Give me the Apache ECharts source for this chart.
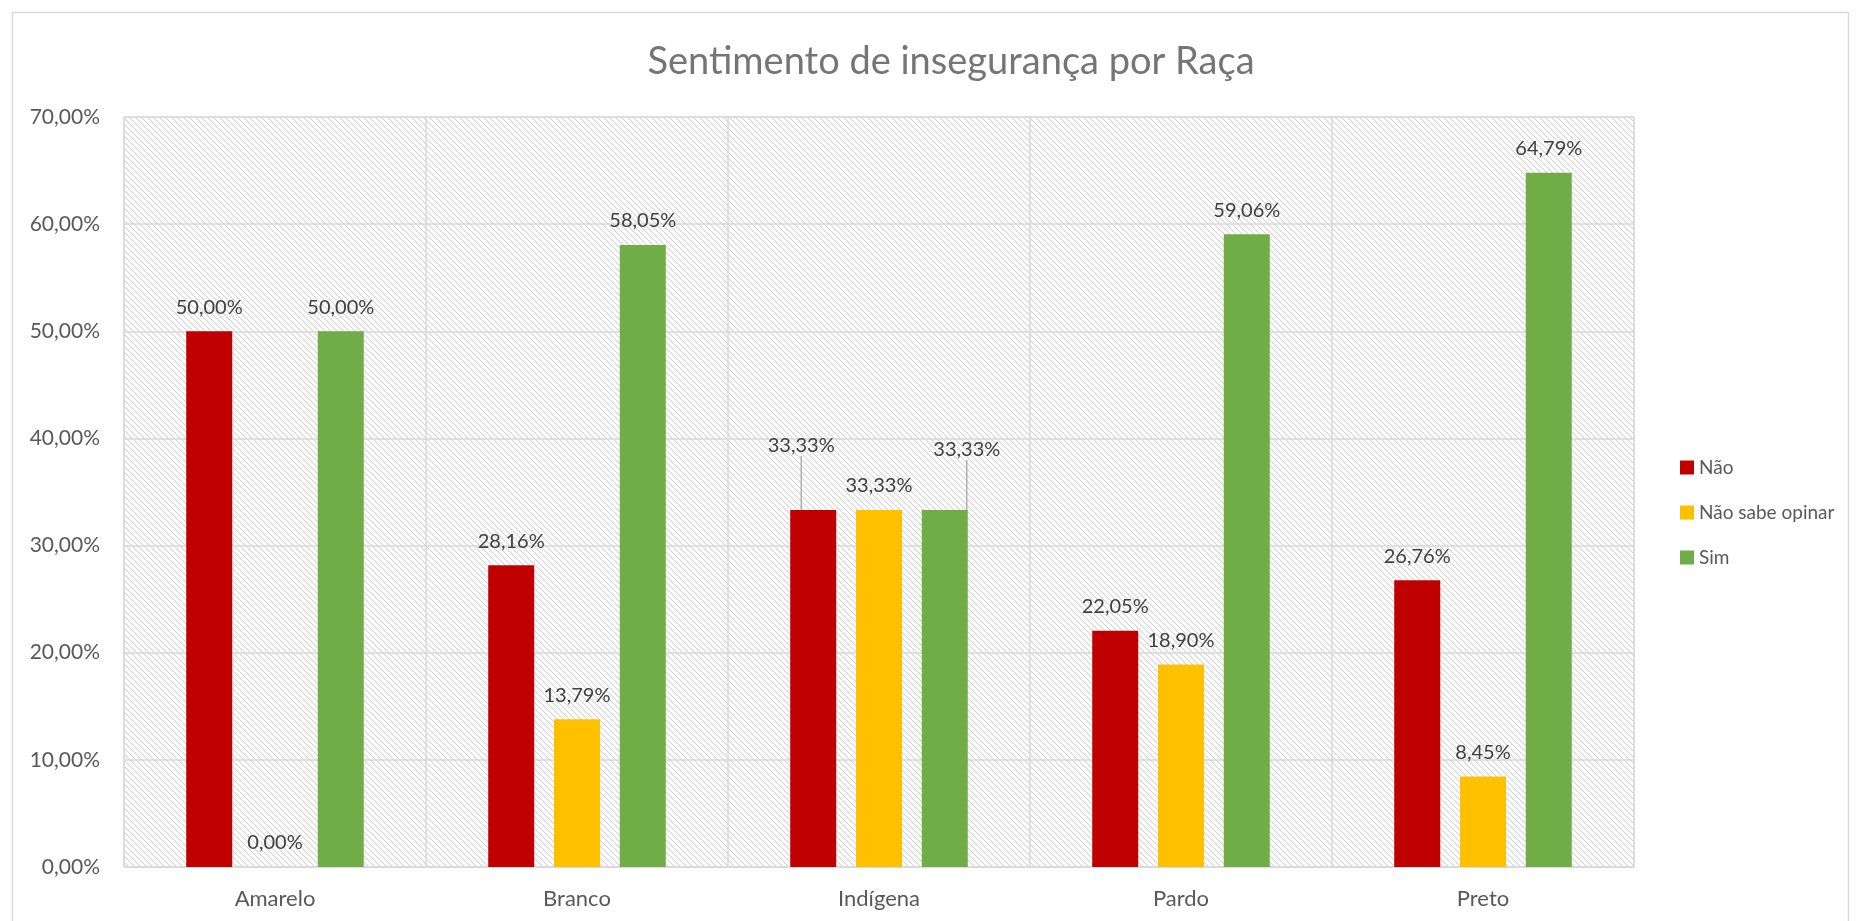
<!DOCTYPE html>
<html><head><meta charset="utf-8">
<script src="https://cdn.jsdelivr.net/npm/echarts@6/dist/echarts.min.js"></script>
<style>html,body{margin:0;padding:0;background:#fff}#c{width:1866px;height:921px}</style>
</head><body><div id="c"></div>
<script>
const categories = ['Amarelo', 'Branco', 'Indígena', 'Pardo', 'Preto'];
const nao = [50.00, 28.16, 33.33, 22.05, 26.76];
const naoSabe = [0.00, 13.79, 33.33, 18.90, 8.45];
const sim = [50.00, 58.05, 33.33, 59.06, 64.79];
const seriesNames = ['Não', 'Não sabe opinar', 'Sim'];
const colors = ['#C00000', '#FFC000', '#70AD47'];

const FONT = 'Lato, "Open Sans", sans-serif';
const fmt = v => v.toFixed(2).replace('.', ',') + '%';

// hatch pattern
const pc = document.createElement('canvas');
pc.width = 6; pc.height = 6;
const g = pc.getContext('2d');
g.fillStyle = '#ffffff'; g.fillRect(0, 0, 6, 6);
g.strokeStyle = '#d6d6d6'; g.lineWidth = 1.2;
g.beginPath();
g.moveTo(-1, -1); g.lineTo(7, 7);
g.moveTo(-1, 5); g.lineTo(1, 7);
g.moveTo(5, -1); g.lineTo(7, 1);
g.stroke();

const chart = echarts.init(document.getElementById('c'), null, {renderer: 'canvas'});

// Indígena labels moved up with leader lines (Não, Sim)
const moved = {0: {dx: -12, dy: -40}, 2: {dx: 22, dy: -36}};

function mkSeries(name, data, idx) {
  return {
    name: name, type: 'bar', data: data.map((v, i) => {
      const item = {value: v};
      if (i === 2 && moved[idx]) item.labelLine = {show: true};
      return item;
    }),
    barWidth: 46, barGap: '43%',
    itemStyle: {color: colors[idx]},
    label: {show: true, position: 'top', distance: 14, color: '#404040', fontSize: 20, fontFamily: FONT,
      formatter: p => fmt(p.value)},
    labelLine: {show: false, lineStyle: {color: '#a6a6a6', width: 1.3}},
    labelLayout: function (p) {
      if (p.dataIndex === 2 && moved[idx]) return {dx: moved[idx].dx, dy: moved[idx].dy};
      return {};
    }
  };
}

chart.setOption({
  animation: false,
  backgroundColor: '#ffffff',
  title: {text: 'Sentimento de insegurança por Raça', left: 946, textAlign: 'center', top: 38,
    textStyle: {color: '#757575', fontSize: 38, fontWeight: 'normal', fontFamily: FONT}},
  legend: {orient: 'vertical', left: 1675, top: 453, itemWidth: 14, itemHeight: 14, itemGap: 26,
    icon: 'rect', textStyle: {color: '#595959', fontSize: 19, fontFamily: FONT}, data: seriesNames},
  grid: {left: 124, top: 117, width: 1510, height: 750, show: true,
    backgroundColor: {image: pc, repeat: 'repeat'}, borderColor: '#d9d9d9', borderWidth: 1},
  xAxis: {type: 'category', data: categories,
    axisLine: {lineStyle: {color: '#d9d9d9', width: 1.5}}, axisTick: {show: false},
    axisLabel: {color: '#595959', fontSize: 22, fontFamily: FONT, margin: 21},
    splitLine: {show: true, lineStyle: {color: '#d9d9d9', width: 1.5}}},
  yAxis: {type: 'value', min: 0, max: 70, interval: 10,
    axisLine: {show: false}, axisTick: {show: false},
    axisLabel: {color: '#595959', fontSize: 21, fontFamily: FONT, margin: 24, formatter: v => fmt(v)},
    splitLine: {lineStyle: {color: '#d9d9d9', width: 1.5}}},
  graphic: [{type: 'rect', shape: {x: 12.5, y: 12.5, width: 1836, height: 930}, z: -1,
    style: {fill: 'none', stroke: '#d9d9d9', lineWidth: 1.5}}],
  series: [mkSeries(seriesNames[0], nao, 0), mkSeries(seriesNames[1], naoSabe, 1), mkSeries(seriesNames[2], sim, 2)]
});
</script></body></html>
